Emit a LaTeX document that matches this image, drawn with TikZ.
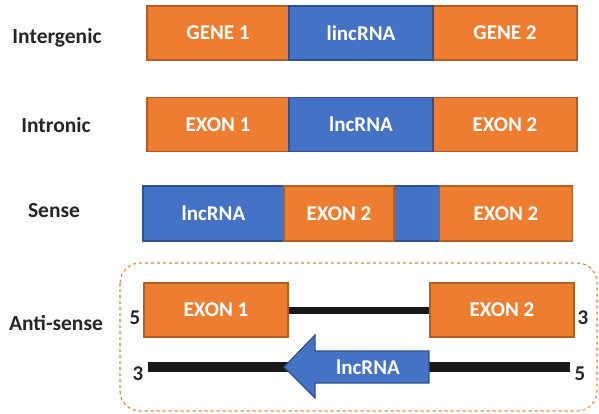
\documentclass[tikz,border=0pt]{standalone}
\usepackage{fontspec}
\setmainfont{Carlito}
\definecolor{org}{HTML}{ED7D31}
\definecolor{orgd}{HTML}{B35D22}
\definecolor{blu}{HTML}{4472C4}
\definecolor{blud}{HTML}{2F528F}
\tikzset{
  lab/.style={font=\fontsize{21.5}{24}\selectfont\bfseries, text=black!85},
  obox/.style={draw=orgd, fill=org, line width=1.5pt, text=white, font=\fontsize{21}{24}\selectfont\bfseries, inner sep=0pt},
  bbox/.style={draw=blud, fill=blu, line width=1.5pt, text=white, font=\fontsize{21}{24}\selectfont\bfseries, inner sep=0pt},
  wtxt/.style={text=white, font=\fontsize{21}{24}\selectfont\bfseries},
  num/.style={font=\fontsize{21}{24}\selectfont\bfseries, text=black!85},
  dna/.style={draw=black!90}
}
\begin{document}
\begin{tikzpicture}[x=1pt,y=-1pt]
\useasboundingbox (0,0) rectangle (599,413);
% labels
\node[lab] (l1) at (57,38) {Intergenic};
\node[lab] (l2) at (56,125) {Intronic};
\node[lab] (l3) at (54,211) {Sense};
\node[lab] (l4) at (56,323) {Anti-sense};
% row 1
\node[obox, minimum width=142pt, minimum height=54pt] (g1) at (218,33) {GENE 1};
\node[obox, minimum width=144pt, minimum height=54pt] (g2) at (505,33) {GENE 2};
\node[bbox, minimum width=144pt, minimum height=54pt] (li) at (361,33) {lincRNA};
% row 2
\node[obox, minimum width=142pt, minimum height=54pt] (e1) at (218,124.5) {EXON 1};
\node[obox, minimum width=144pt, minimum height=54pt] (e2) at (505,124.5) {EXON 2};
\node[bbox, minimum width=144pt, minimum height=54pt] (ln) at (361,124.5) {lncRNA};
% row 3
\node[bbox, minimum width=297pt, minimum height=55pt] (sb) at (291.5,213.5) {};
\node[wtxt] (st) at (213.5,213.5) {lncRNA};
\node[obox, minimum width=110pt, minimum height=55pt] (s2) at (339,213.5) {EXON 2};
\node[obox, minimum width=133pt, minimum height=55pt] (s3) at (506,213.5) {EXON 2};
% row 4
\draw[draw=org, dashed, line width=1.1pt, rounded corners=20pt] (120,263) rectangle (597,411);
\node[obox, minimum width=144pt, minimum height=54pt] (a1) at (216,310) {EXON 1};
\node[obox, minimum width=144pt, minimum height=54pt] (a2) at (502,310) {EXON 2};
\draw[dna, line width=7pt] (a1.east) -- (a2.west);
\node[num] (n5a) at (135,318) {5};
\node[num] (n3a) at (583,318) {3};
\coordinate (bl) at (148,367);
\coordinate (br) at (570,367);
\draw[dna, line width=10pt] (bl) -- (br);
\node[num] (n3b) at (138,374) {3};
\node[num] (n5b) at (580,374) {5};
\draw[draw=blud, fill=blu, line width=1.2pt] (284,367) -- (315,335) -- (315,351) -- (429,351) -- (429,383) -- (315,383) -- (315,398) -- cycle;
\node[wtxt] (ar) at (368,367) {lncRNA};
\end{tikzpicture}
\end{document}
